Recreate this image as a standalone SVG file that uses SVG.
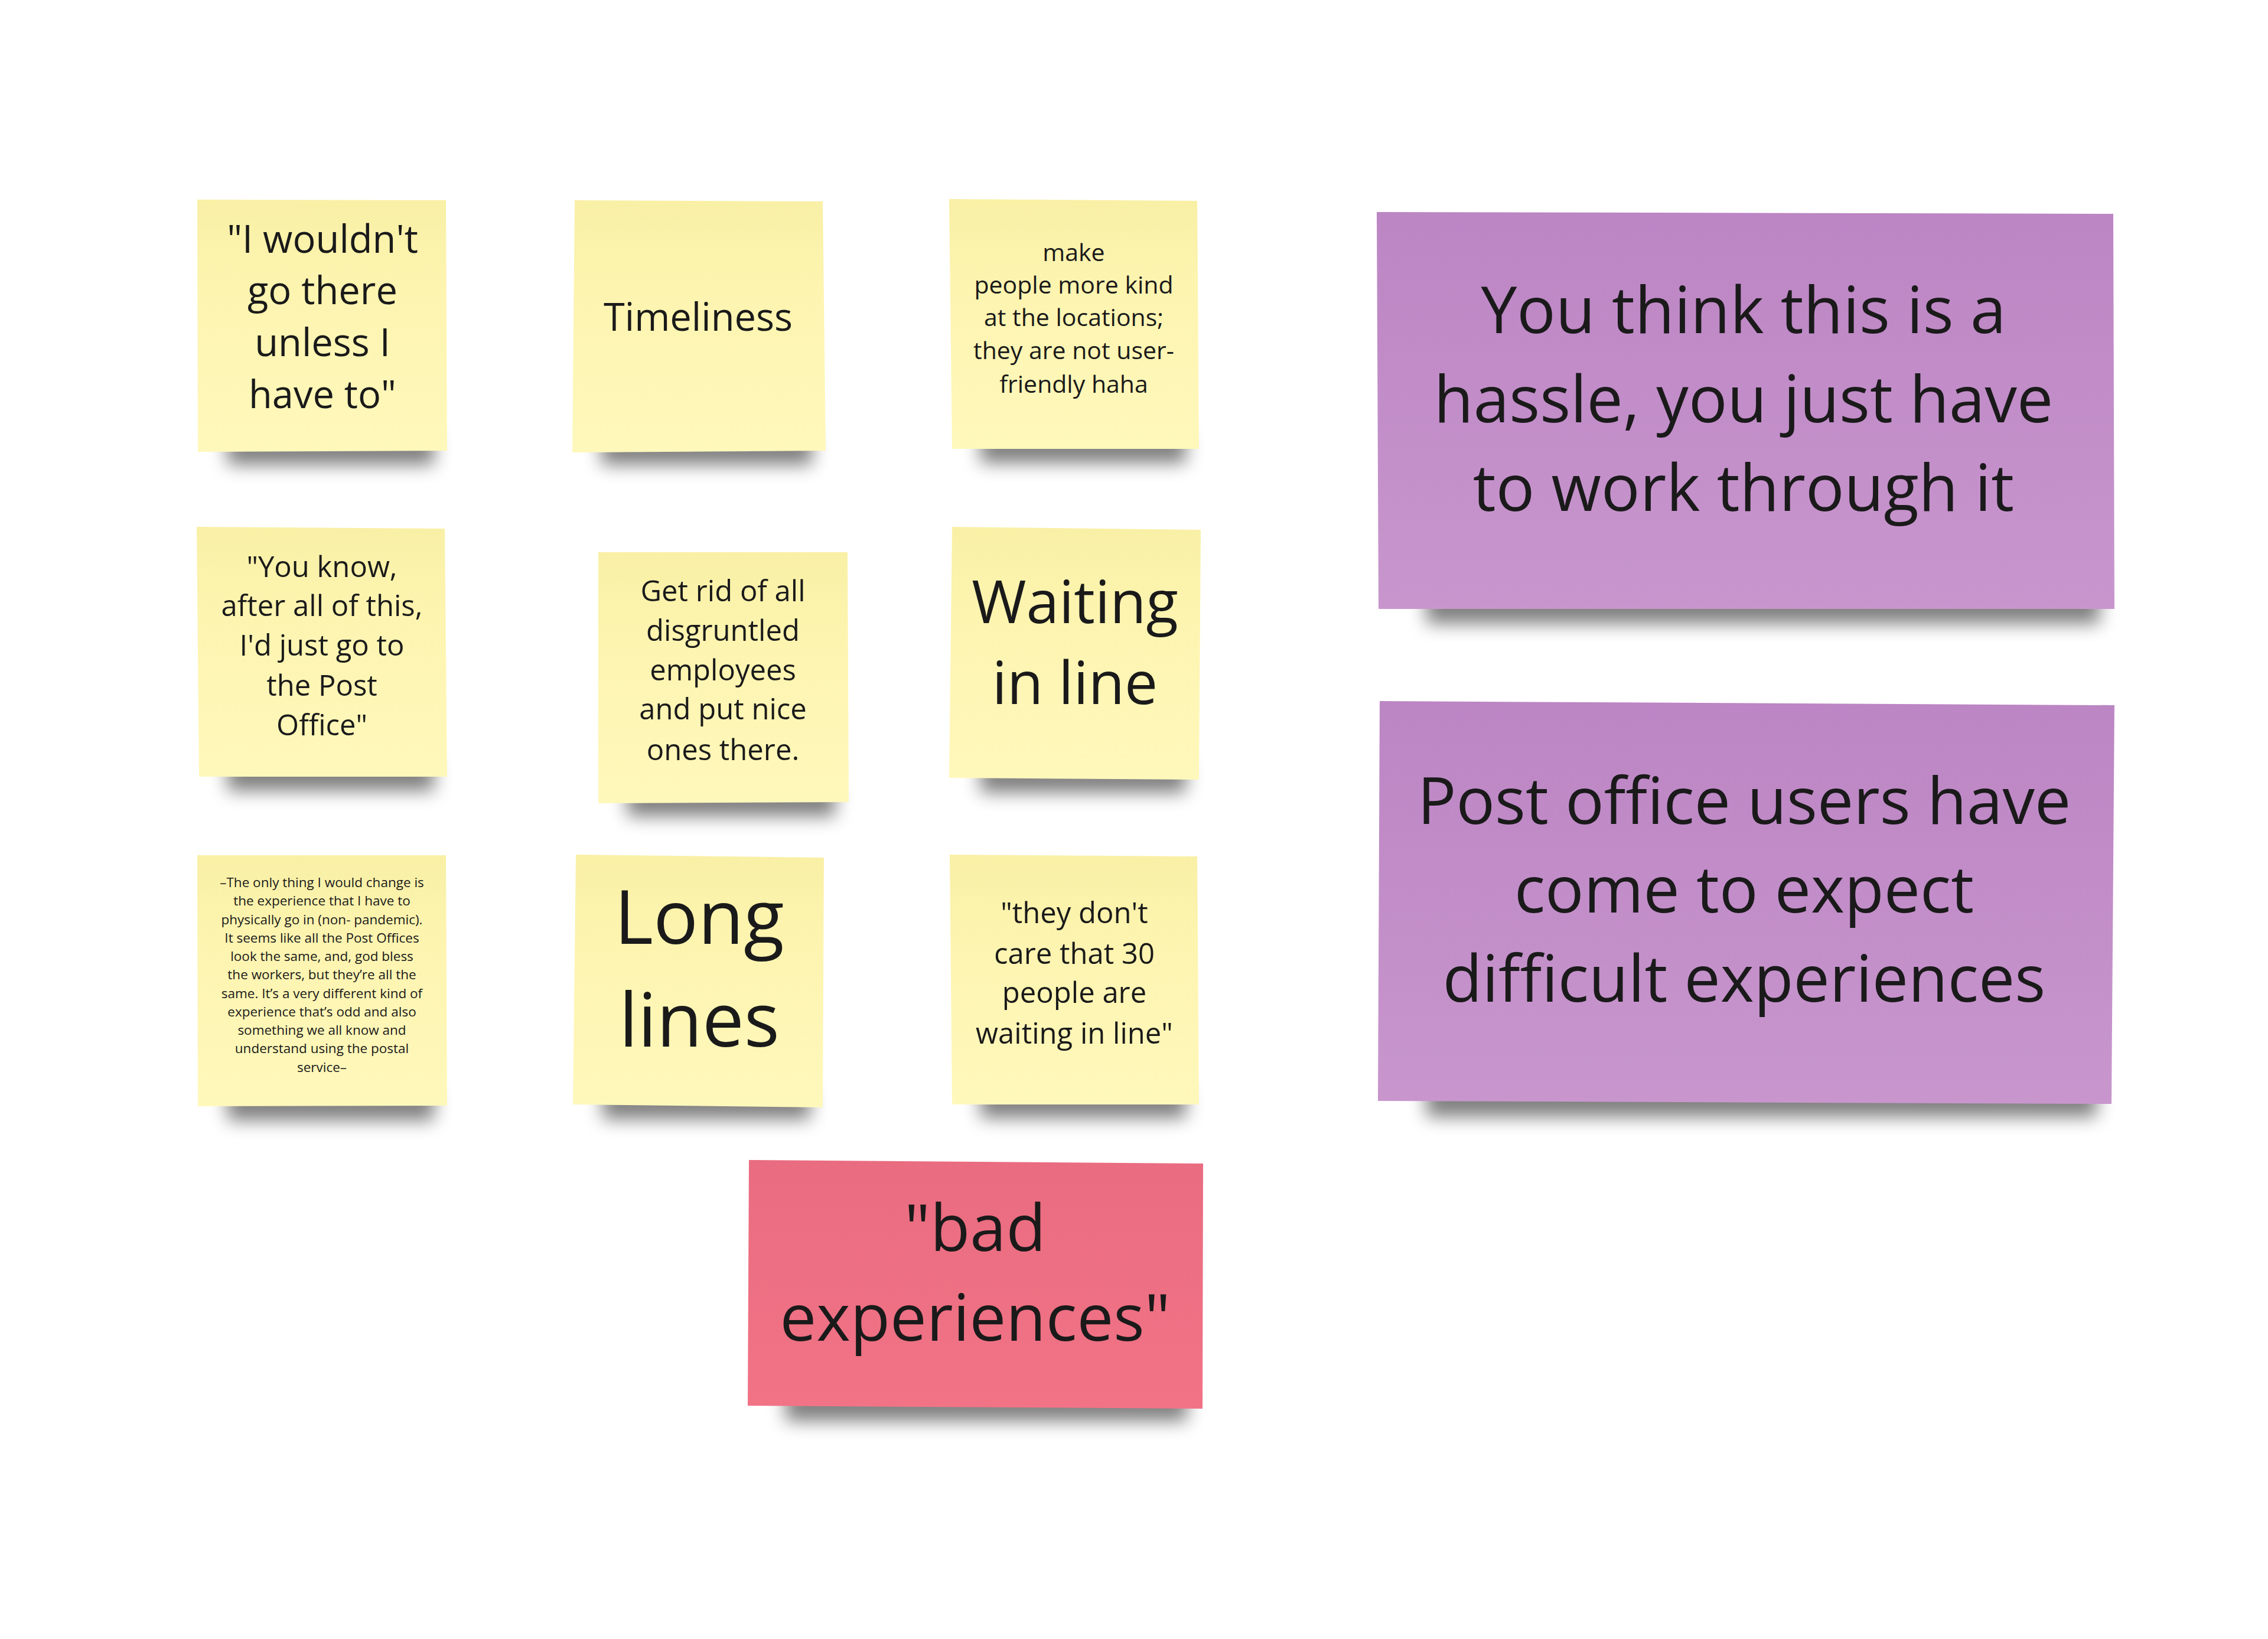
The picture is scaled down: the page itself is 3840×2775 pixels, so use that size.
<svg xmlns="http://www.w3.org/2000/svg" width="3840" height="2775" viewBox="0 0 3840 2775">
<defs>
<linearGradient id="gy" x1="0" y1="0" x2="0" y2="1">
<stop offset="0" stop-color="#f9f0a6"/>
<stop offset="0.35" stop-color="#fdf4b0"/>
<stop offset="1" stop-color="#fff8bb"/>
</linearGradient>
<linearGradient id="gp" x1="0" y1="0" x2="0" y2="1">
<stop offset="0" stop-color="#bc85c4"/>
<stop offset="1" stop-color="#c896cd"/>
</linearGradient>
<linearGradient id="gr" x1="0" y1="0" x2="0" y2="1">
<stop offset="0" stop-color="#e96c80"/>
<stop offset="1" stop-color="#f27386"/>
</linearGradient>
<filter id="blur" x="-20%" y="-150%" width="140%" height="400%">
<feGaussianBlur stdDeviation="15"/>
</filter>
</defs>
<style>
.t{font-family:"Open Sans","Noto Sans","Liberation Sans",sans-serif;fill:#1a1a1a;text-anchor:middle}
.sh{fill:#000;opacity:0.5;filter:url(#blur)}
.y{fill:url(#gy)}
.p{fill:url(#gp)}
.r{fill:url(#gr)}
</style>
<rect width="3840" height="2775" fill="#ffffff"/>
<g id="connectors"/>

<g id="note-wouldnt">
<rect class="sh" x="385" y="735" width="350" height="52"/>
<polygon class="y" points="334,338 755,339 757,763 335,765"/>
<text class="t" font-size="65"><tspan x="546" y="428">"I wouldn't</tspan><tspan x="546" y="515">go there</tspan><tspan x="546" y="603">unless I</tspan><tspan x="546" y="691">have to"</tspan></text>
</g>

<g id="note-timeliness">
<rect class="sh" x="1018" y="735" width="357" height="52"/>
<polygon class="y" points="973,339 1393,341 1398,763 969,766"/>
<text class="t" font-size="65"><tspan x="1182" y="560">Timeliness</tspan></text>
</g>

<g id="note-kind">
<rect class="sh" x="1660" y="732" width="348" height="52"/>
<polygon class="y" points="1607,337 2027,340 2030,760 1612,760"/>
<text class="t" font-size="41"><tspan x="1818" y="442">make</tspan><tspan x="1818" y="497">people more kind</tspan><tspan x="1818" y="552">at the locations;</tspan><tspan x="1818" y="608">they are not user-</tspan><tspan x="1818" y="665">friendly haha</tspan></text>
</g>

<g id="note-youknow">
<rect class="sh" x="385" y="1287" width="350" height="52"/>
<polygon class="y" points="333,892 753,895 757,1315 337,1315"/>
<text class="t" font-size="49"><tspan x="545" y="977">"You know,</tspan><tspan x="545" y="1043">after all of this,</tspan><tspan x="545" y="1110">I'd just go to</tspan><tspan x="545" y="1178">the Post</tspan><tspan x="545" y="1245">Office"</tspan></text>
</g>

<g id="note-getrid">
<rect class="sh" x="1062" y="1330" width="352" height="52"/>
<polygon class="y" points="1013,935 1435,935 1437,1358 1013,1360"/>
<text class="t" font-size="49"><tspan x="1224" y="1018">Get rid of all</tspan><tspan x="1224" y="1085">disgruntled</tspan><tspan x="1224" y="1152">employees</tspan><tspan x="1224" y="1218">and put nice</tspan><tspan x="1224" y="1287">ones there.</tspan></text>
</g>

<g id="note-waiting">
<rect class="sh" x="1660" y="1290" width="348" height="52"/>
<polygon class="y" points="1612,892 2033,897 2030,1320 1607,1317"/>
<text class="t" font-size="100"><tspan x="1820" y="1055">Waiting</tspan><tspan x="1820" y="1192">in line</tspan></text>
</g>

<g id="note-onlything">
<rect class="sh" x="385" y="1845" width="350" height="52"/>
<polygon class="y" points="334,1448 755,1448 757,1872 335,1873"/>
<text class="t" font-size="22.5"><tspan x="545" y="1502">–The only thing I would change is</tspan><tspan x="545" y="1533">the experience that I have to</tspan><tspan x="545" y="1565">physically go in (non- pandemic).</tspan><tspan x="545" y="1596">It seems like all the Post Offices</tspan><tspan x="545" y="1627">look the same, and, god bless</tspan><tspan x="545" y="1658">the workers, but they’re all the</tspan><tspan x="545" y="1690">same. It’s a very different kind of</tspan><tspan x="545" y="1721">experience that’s odd and also</tspan><tspan x="545" y="1752">something we all know and</tspan><tspan x="545" y="1783">understand using the postal</tspan><tspan x="545" y="1815">service–</tspan></text>
</g>

<g id="note-longlines">
<rect class="sh" x="1020" y="1843" width="352" height="52"/>
<polygon class="y" points="975,1447 1395,1452 1393,1875 970,1870"/>
<text class="t" font-size="126"><tspan x="1184" y="1598">Long</tspan><tspan x="1184" y="1772">lines</tspan></text>
</g>

<g id="note-dontcare">
<rect class="sh" x="1660" y="1841" width="348" height="52"/>
<polygon class="y" points="1608,1447 2027,1450 2030,1870 1612,1870"/>
<text class="t" font-size="49"><tspan x="1819" y="1563">"they don't</tspan><tspan x="1819" y="1632">care that 30</tspan><tspan x="1819" y="1698">people are</tspan><tspan x="1819" y="1767">waiting in line"</tspan></text>
</g>

<g id="note-badexperiences">
<rect class="sh" x="1330" y="2352" width="680" height="54"/>
<polygon class="r" points="1268,1964 2037,1970 2036,2385 1266,2380"/>
<text class="t" font-size="110"><tspan x="1651" y="2118">"bad</tspan><tspan x="1651" y="2270">experiences"</tspan></text>
</g>

<g id="note-hassle">
<rect class="sh" x="2415" y="1000" width="1140" height="56"/>
<polygon class="p" points="2331,359 3578,362 3580,1031 2334,1031"/>
<text class="t" font-size="109"><tspan x="2952" y="564">You think this is a</tspan><tspan x="2952" y="715">hassle, you just have</tspan><tspan x="2952" y="865">to work through it</tspan></text>
</g>

<g id="note-expect">
<rect class="sh" x="2415" y="1835" width="1135" height="56"/>
<polygon class="p" points="2336,1187 3580,1194 3575,1869 2333,1864"/>
<text class="t" font-size="109"><tspan x="2953" y="1395">Post office users have</tspan><tspan x="2953" y="1545">come to expect</tspan><tspan x="2953" y="1696">difficult experiences</tspan></text>
</g>
</svg>
